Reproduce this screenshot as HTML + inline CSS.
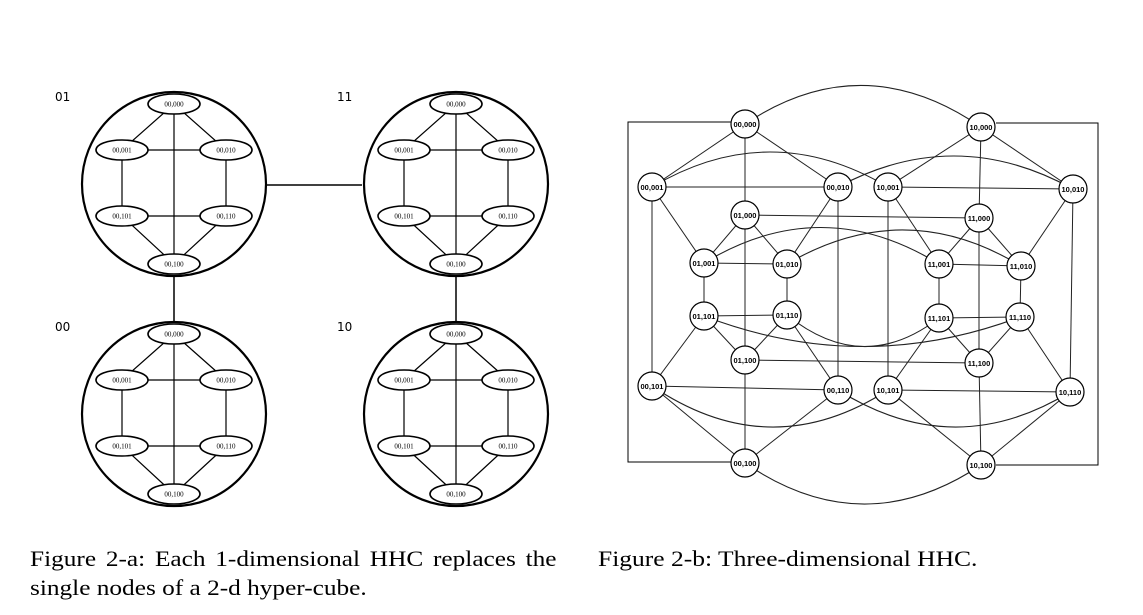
<!DOCTYPE html>
<html><head><meta charset="utf-8"><style>
body{margin:0;background:#fff;width:1143px;height:615px;overflow:hidden}
svg{position:absolute;left:0;top:0}
.cap{position:absolute;font-family:"Liberation Serif",serif;font-size:22px;color:#000;line-height:29px;white-space:nowrap;transform-origin:0 0}
</style></head><body>
<svg id="s" width="1143" height="615"></svg>
<div class="cap" style="left:30px;top:544px;transform:scaleX(1.15);word-spacing:3px">Figure 2-a: Each 1-dimensional HHC replaces the</div>
<div class="cap" style="left:30px;top:573px;transform:scaleX(1.15)">single nodes of a 2-d hyper-cube.</div>
<div class="cap" style="left:598px;top:544px;transform:scaleX(1.16)">Figure 2-b: Three-dimensional HHC.</div>
<script>
const NS='http://www.w3.org/2000/svg';
const s=document.getElementById('s');
function el(t,a,p){const e=document.createElementNS(NS,t);for(const k in a)e.setAttribute(k,a[k]);(p||s).appendChild(e);return e;}
// ---- Figure 2-a ----
const clusterLabels=['01','11','00','10'];
const clusterCenters=[[174,184],[456,184],[174,414],[456,414]];
const innerNames=['00,000','00,001','00,010','00,101','00,110','00,100'];
const innerOff=[[0,-80],[-52,-34],[52,-34],[-52,32],[52,32],[0,80]];
const innerEdges=[[0,1],[0,2],[1,2],[1,3],[2,4],[3,4],[3,5],[4,5],[0,5]];
const links=[[266,185,362,185],[174,276,174,322],[456,276,456,322]];
links.forEach(l=>{const e=el('line',{x1:l[0],y1:l[1],x2:l[2],y2:l[3],stroke:'#000','stroke-width':1.5});

});
clusterCenters.forEach((c,i)=>{
 const g=el('g',{});
 
 
 el('circle',{cx:c[0],cy:c[1],r:92,fill:'none',stroke:'#000','stroke-width':2.2},g);
 const t=el('text',{x:c[0]-119,y:c[1]-83,'font-family':'DejaVu Sans, sans-serif','font-size':12},g);t.textContent=clusterLabels[i];
 innerEdges.forEach(e=>{const a=innerOff[e[0]],b=innerOff[e[1]];
  el('line',{x1:c[0]+a[0],y1:c[1]+a[1],x2:c[0]+b[0],y2:c[1]+b[1],stroke:'#000','stroke-width':1.2},g);});
 innerNames.forEach((n,j)=>{const o=innerOff[j];
  const e=el('ellipse',{cx:c[0]+o[0],cy:c[1]+o[1],rx:26,ry:10,fill:'#fff',stroke:'#000','stroke-width':1.6},g);
  
  
  const t2=el('text',{x:c[0]+o[0],y:c[1]+o[1]+2.5,'text-anchor':'middle','font-family':'Liberation Serif, serif','font-size':7},g);t2.textContent=n;});
});
// ---- Figure 2-b ----
const nodeNames=['00,000','10,000','00,001','00,010','10,001','10,010','01,000','11,000','01,001','01,010','11,001','11,010','01,101','01,110','11,101','11,110','01,100','11,100','00,101','00,110','10,101','10,110','00,100','10,100'];
const nodeX=[745,981,652,838,888,1073,745,979,704,787,939,1021,704,787,939,1020,745,979,652,838,888,1070,745,981];
const nodeY=[124,127,187,187,187,189,215,218,263,264,264,266,316,315,318,317,360,363,386,390,390,392,463,465];
const P={};nodeNames.forEach((n,i)=>P[n]=[nodeX[i],nodeY[i]]);
const straight=[['00,000','01,000'],['01,000','01,100'],['01,100','00,100'],['10,000','11,000'],['11,000','11,100'],['11,100','10,100'],
['00,001','00,101'],['00,010','00,110'],['10,001','10,101'],['10,010','10,110'],['01,001','01,101'],['01,010','01,110'],['11,001','11,101'],['11,010','11,110'],
['00,001','00,010'],['10,001','10,010'],['01,000','11,000'],['01,001','01,010'],['11,001','11,010'],['01,101','01,110'],['11,101','11,110'],['01,100','11,100'],['00,101','00,110'],['10,101','10,110'],
['00,000','00,001'],['00,000','00,010'],['10,000','10,001'],['10,000','10,010'],['00,001','01,001'],['00,010','01,010'],['01,000','01,001'],['01,000','01,010'],
['10,001','11,001'],['10,010','11,010'],['11,000','11,001'],['11,000','11,010'],['01,101','00,101'],['01,101','01,100'],['01,110','01,100'],['01,110','00,110'],
['11,101','10,101'],['11,101','11,100'],['11,110','11,100'],['11,110','10,110'],['00,101','00,100'],['00,110','00,100'],['10,101','10,100'],['10,110','10,100']];
const curves=[['00,000','10,000',-80],['00,001','10,001',-70],['00,010','10,010',-64],['01,001','11,001',-72],['01,010','11,010',-70],
['01,101','11,110',60],['01,110','11,101',60],['00,101','10,101',78],['00,110','10,110',72],['00,100','10,100',80]];
const frame=el('path',{d:'M731 122 H628 V462 H731 M996 123 H1098 V465 H996',fill:'none',stroke:'#000','stroke-width':1});


straight.forEach(e=>{const a=P[e[0]],b=P[e[1]];
 const l=el('line',{x1:a[0],y1:a[1],x2:b[0],y2:b[1],stroke:'#222','stroke-width':1});
 
 });
curves.forEach(c=>{const a=P[c[0]],b=P[c[1]];const mx=(a[0]+b[0])/2,my=(a[1]+b[1])/2+c[2];
 const p=el('path',{d:`M${a[0]} ${a[1]} Q${mx} ${my} ${b[0]} ${b[1]}`,fill:'none',stroke:'#222','stroke-width':1.1});
 
 });
nodeNames.forEach(n=>{const p=P[n];
 const c=el('circle',{cx:p[0],cy:p[1],r:14,fill:'#fff',stroke:'#000','stroke-width':1.2});
 
 
 const t=el('text',{x:p[0],y:p[1]+3,'text-anchor':'middle','font-family':'Liberation Sans, sans-serif','font-size':7.5,'font-weight':'bold'});t.textContent=n;});
</script>
</body></html>
